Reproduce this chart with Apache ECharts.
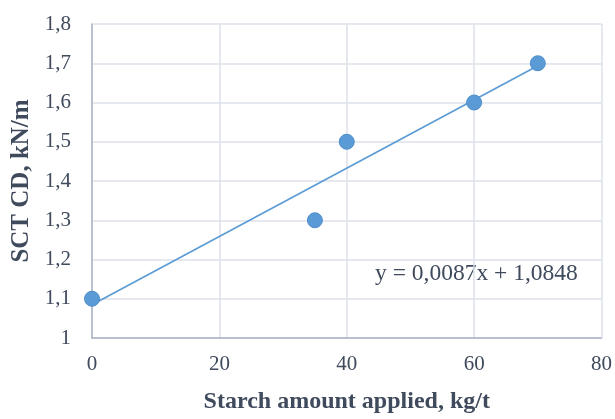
<!DOCTYPE html>
<html>
<head>
<meta charset="utf-8">
<script src="https://cdn.jsdelivr.net/npm/echarts@6/dist/echarts.min.js"></script>
<style>
  html, body { margin: 0; padding: 0; background: #fff; }
  #chart { width: 615px; height: 419px; }
</style>
</head>
<body>
<div id="chart"></div>
<script>
// Measured points: starch dose (kg/t) vs SCT CD (kN/m)
const starchDose = [0, 35, 40, 60, 70];
const sctCD = [1.1, 1.3, 1.5, 1.6, 1.7];

// Linear trendline y = slope * x + intercept
const slope = 0.0087;
const intercept = 1.0848;
const trendX = [0, 70];

const xTicks = { min: 0, max: 80, interval: 20 };
const yTicks = { min: 1, max: 1.8, interval: 0.1 };

const textColor = '#3f4a5c';
const font = '"Liberation Serif", "Times New Roman", serif';

function commaDecimal(v) {
  const r = Math.round(v * 10) / 10;
  return Number.isInteger(r) ? String(r) : r.toFixed(1).replace('.', ',');
}

const chart = echarts.init(document.getElementById('chart'), null, { renderer: 'canvas' });

chart.setOption({
  backgroundColor: '#ffffff',
  animation: false,
  grid: { left: 92, right: 13, top: 24, bottom: 77 },
  xAxis: {
    type: 'value',
    min: xTicks.min, max: xTicks.max, interval: xTicks.interval,
    name: 'Starch amount applied, kg/t',
    nameLocation: 'middle',
    nameGap: 52,
    nameTextStyle: { fontFamily: font, fontWeight: 'bold', fontSize: 24, color: textColor },
    axisLine: { lineStyle: { color: '#a9b3c2', width: 1.5 } },
    axisTick: { show: false },
    axisLabel: { fontFamily: font, fontSize: 21, color: textColor, margin: 16 },
    splitLine: { show: true, lineStyle: { color: '#dde2ea', width: 1.5 } }
  },
  yAxis: {
    type: 'value',
    min: yTicks.min, max: yTicks.max, interval: yTicks.interval,
    name: 'SCT CD, kN/m',
    nameLocation: 'middle',
    nameGap: 55,
    nameTextStyle: { fontFamily: font, fontWeight: 'bold', fontSize: 25, color: textColor },
    axisLine: { show: true, lineStyle: { color: '#a9b3c2', width: 1.5 } },
    axisTick: { show: false },
    axisLabel: { fontFamily: font, fontSize: 21, color: textColor, margin: 21, formatter: commaDecimal },
    splitLine: { show: true, lineStyle: { color: '#dde2ea', width: 1.5 } }
  },
  series: [
    {
      name: 'Trend',
      type: 'line',
      data: trendX.map(x => [x, slope * x + intercept]),
      showSymbol: false,
      lineStyle: { color: '#5b9bd5', width: 1.6 },
      z: 2
    },
    {
      name: 'SCT CD',
      type: 'scatter',
      data: starchDose.map((x, i) => [x, sctCD[i]]),
      symbolSize: 15,
      itemStyle: { color: '#5b9bd5', opacity: 1, borderColor: '#4d8ccb', borderWidth: 1 },
      z: 3
    }
  ],
  graphic: [
    {
      type: 'text',
      left: 375,
      top: 262,
      style: {
        text: 'y = 0,0087x + 1,0848',
        font: '23.5px ' + font,
        fill: textColor
      }
    }
  ]
});
</script>
</body>
</html>
